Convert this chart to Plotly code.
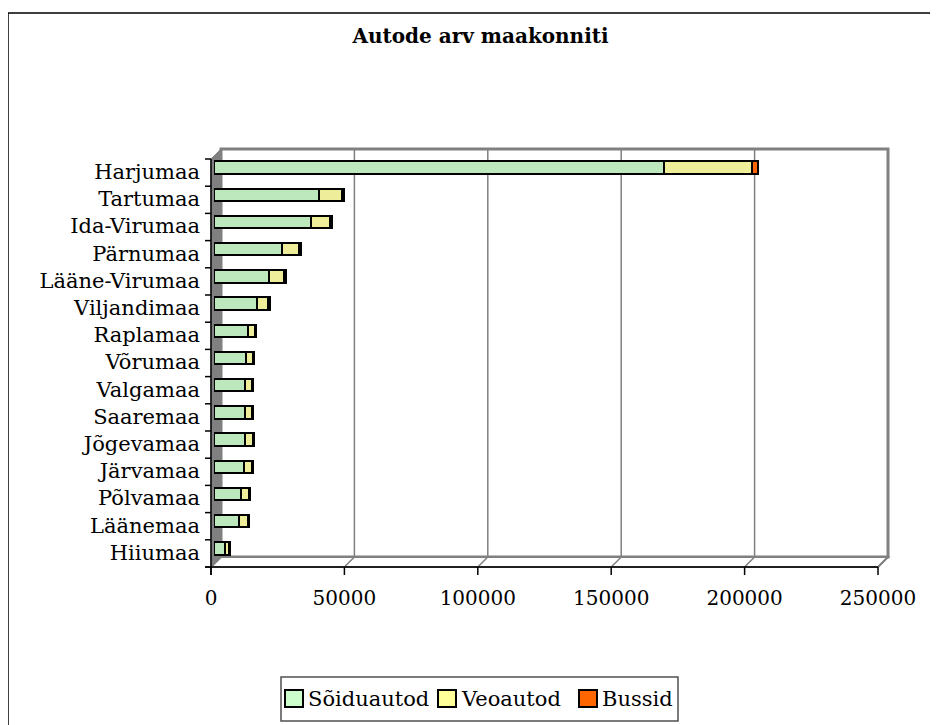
import plotly.graph_objects as go

# ---- data ----
counties = ["Harjumaa", "Tartumaa", "Ida-Virumaa", "Pärnumaa", "Lääne-Virumaa",
            "Viljandimaa", "Raplamaa", "Võrumaa", "Valgamaa", "Saaremaa",
            "Jõgevamaa", "Järvamaa", "Põlvamaa", "Läänemaa", "Hiiumaa"]
soiduautod = [168800, 39500, 36400, 25400, 20700, 16200, 12600, 11900, 11500,
              11500, 11500, 11300, 10000, 9400, 4100]
veoautod = [33000, 8400, 7100, 6500, 5600, 4200, 2800, 2800, 2900,
            2800, 3000, 3000, 3200, 3200, 1600]
bussid = [2200, 900, 900, 700, 600, 500, 400, 400, 400, 400, 400, 400, 350, 350, 250]
series_names = ["Sõiduautod", "Veoautod", "Bussid"]
bar_colors = ["#BDE8BD", "#EDED9A", "#FF6600"]
legend_colors = ["#CCFFCC", "#FFFF99", "#FF6600"]
x_ticks = [0, 50000, 100000, 150000, 200000, 250000]
x_ticktext = ["0", "50000", "100000", "150000", "200000", "250000"]
title_text = "Autode arv maakonniti"

# page is rendered with an 8px body margin
OFF = 8
PAGE_W, PAGE_H = 938, 725
W, H = PAGE_W - OFF, PAGE_H - OFF
L, R, T, B = 214, 881, 154, 562  # plot area in page pixels
FONT = "DejaVu Serif"


def px(x):
    return (x - L) / (R - L)


def py(y):
    return (B - y) / (B - T)


fig = go.Figure()
for name, vals, col in zip(series_names, [soiduautod, veoautod, bussid], bar_colors):
    fig.add_trace(go.Bar(
        y=counties, x=vals, name=name, orientation="h",
        marker=dict(color=col, line=dict(color="black", width=2)),
        width=0.46, showlegend=False,
    ))

shapes = []
gray = "#808080"
# outer border
shapes.append(dict(type="rect", xref="paper", yref="paper", x0=px(8), y0=py(13),
                   x1=px(980), y1=py(780), line=dict(color="black", width=1.5),
                   layer="below"))
# back wall
bx0, by0, bx1, by1 = 221, 149, 888, 557
shapes.append(dict(type="rect", xref="paper", yref="paper", x0=px(bx0), y0=py(by0),
                   x1=px(bx1), y1=py(by1), line=dict(color=gray, width=3),
                   fillcolor="white", layer="below"))
step = (bx1 - bx0) / 5
fstep = (878 - 211) / 5
for k in range(1, 5):
    gx = bx0 + step * k
    shapes.append(dict(type="line", xref="paper", yref="paper", x0=px(gx), y0=py(by0),
                       x1=px(gx), y1=py(by1), line=dict(color=gray, width=1.5), layer="below"))


def path(points):
    return "M " + " L ".join(f"{px(a):.5f},{py(b):.5f}" for a, b in points) + " Z"


# floor
shapes.append(dict(type="path", xref="paper", yref="paper",
                   path=path([(211, 567), (221, 557), (888, 557), (878, 567)]),
                   fillcolor="white", line=dict(color=gray, width=2), layer="below"))
for k in range(1, 6):
    shapes.append(dict(type="line", xref="paper", yref="paper",
                       x0=px(211 + fstep * k), y0=py(567), x1=px(221 + step * k), y1=py(557),
                       line=dict(color=gray, width=1.5), layer="below"))
# left wall
shapes.append(dict(type="path", xref="paper", yref="paper",
                   path=path([(211, 159), (221, 149), (221, 557), (211, 567)]),
                   fillcolor=gray, line=dict(color=gray, width=1), layer="below"))
# front axes
shapes.append(dict(type="line", xref="paper", yref="paper", x0=px(211), y0=py(159),
                   x1=px(211), y1=py(575), line=dict(color="black", width=1.5)))
shapes.append(dict(type="line", xref="paper", yref="paper", x0=px(205), y0=py(567),
                   x1=px(878), y1=py(567), line=dict(color="black", width=1.5)))
cat_h = (567 - 159) / len(counties)
for k in range(len(counties) + 1):
    yy = 159 + cat_h * k
    shapes.append(dict(type="line", xref="paper", yref="paper", x0=px(205), y0=py(yy),
                       x1=px(211), y1=py(yy), line=dict(color="black", width=1.5)))
for k in range(6):
    xx = 211 + fstep * k
    shapes.append(dict(type="line", xref="paper", yref="paper", x0=px(xx), y0=py(567),
                       x1=px(xx), y1=py(575), line=dict(color="black", width=1.5)))

# manual legend (boxed, below the plot)
annotations = []
shapes.append(dict(type="rect", xref="paper", yref="paper", x0=px(281), y0=py(677),
                   x1=px(678), y1=py(721), line=dict(color="#505050", width=1.5),
                   fillcolor="white"))
leg_marker_x = [285, 438, 579]
for name, col, mx in zip(series_names, legend_colors, leg_marker_x):
    shapes.append(dict(type="rect", xref="paper", yref="paper", x0=px(mx), y0=py(690),
                       x1=px(mx + 18), y1=py(707), line=dict(color="black", width=2),
                       fillcolor=col))
    annotations.append(dict(xref="paper", yref="paper", x=px(mx + 21), y=py(699),
                            text=name, showarrow=False, xanchor="left", yanchor="middle",
                            font=dict(family=FONT, size=21, color="black")))

fig.update_layout(
    width=W, height=H,
    margin=dict(l=L - OFF, r=PAGE_W - R, t=T - OFF, b=PAGE_H - B, pad=0),
    paper_bgcolor="white", plot_bgcolor="rgba(0,0,0,0)",
    barmode="stack",
    title=dict(text=f"<b>{title_text}</b>", x=(480.5 - OFF) / W, xref="container",
               xanchor="center", y=1 - (36 - OFF) / H, yref="container", yanchor="middle",
               font=dict(family=FONT, size=20, color="black")),
    xaxis=dict(range=[0, 250000], tickvals=x_ticks, ticktext=x_ticktext,
               showgrid=False, zeroline=False, showline=False, ticks="",
               tickfont=dict(family=FONT, size=20, color="black"),
               ticklabelstandoff=22, ticklabelshift=-3),
    yaxis=dict(categoryorder="array", categoryarray=counties, range=[14.5, -0.5],
               showgrid=False, zeroline=False, showline=False, ticks="",
               tickfont=dict(family=FONT, size=21, color="black"),
               ticklabelstandoff=13, ticklabelshift=-4),
    shapes=shapes, annotations=annotations, showlegend=False,
)

fig.write_html("out.html")
